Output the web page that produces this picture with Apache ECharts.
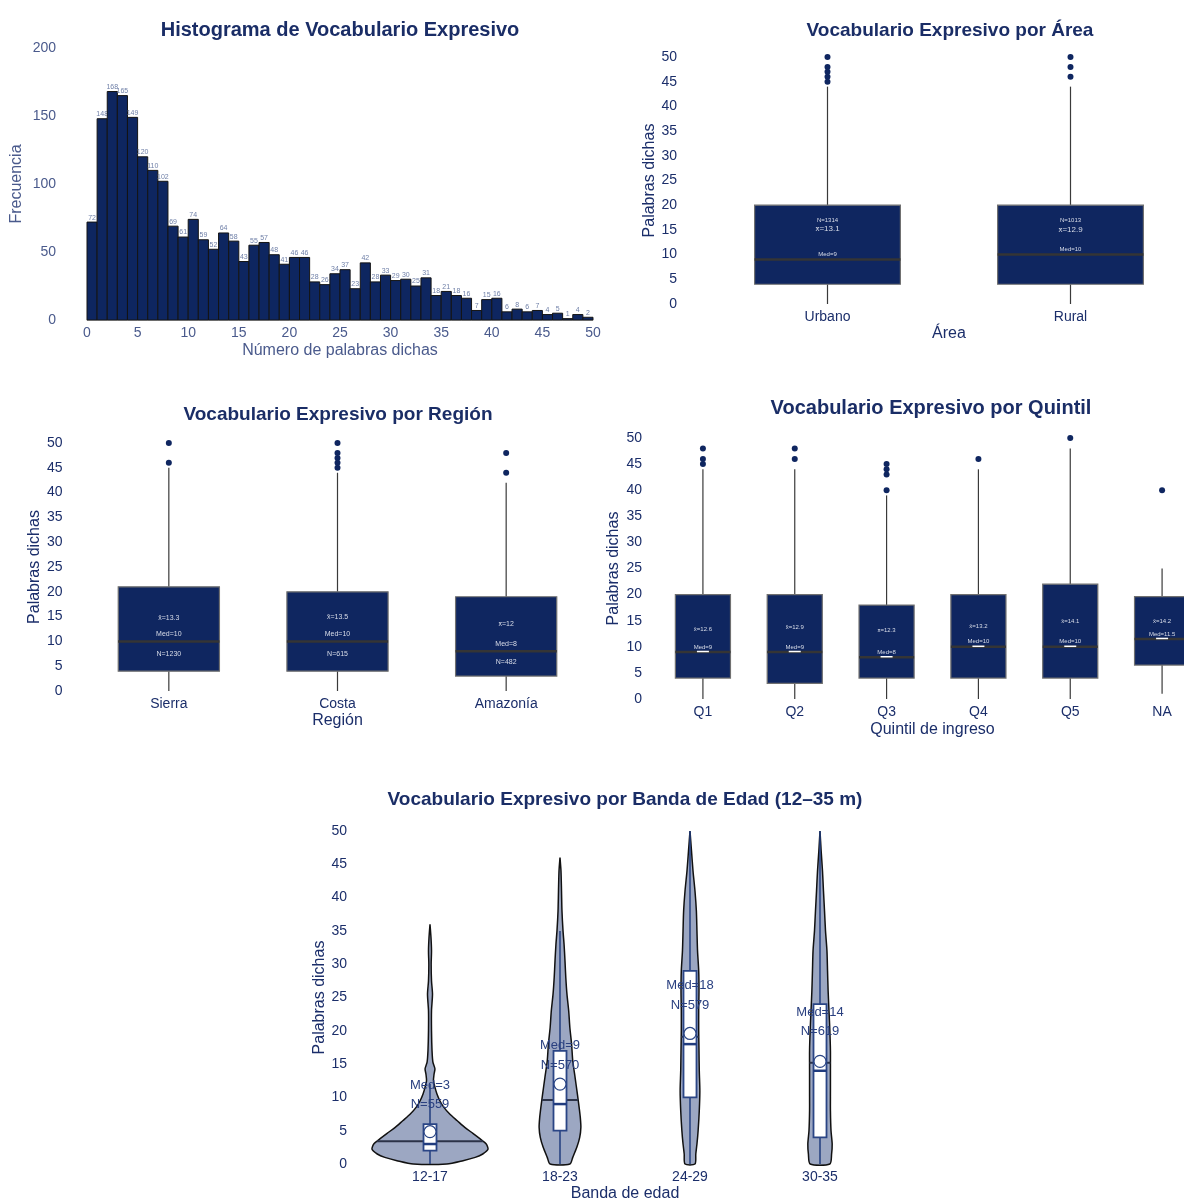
<!DOCTYPE html>
<html>
<head>
<meta charset="utf-8">
<title>Vocabulario Expresivo</title>
<script src="https://cdn.jsdelivr.net/npm/echarts@6/dist/echarts.min.js"></script>
<style>
  html, body { margin: 0; padding: 0; background: #ffffff; }
  #main { width: 1184px; height: 1199px; }
</style>
</head>
<body>
<div id="main"></div>
<script>
// ---------- Histograma: frecuencia por número de palabras ----------
const histBinEdges = [0,1,2,3,4,5,6,7,8,9,10,11,12,13,14,15,16,17,18,19,20,21,22,23,24,25,
  26,27,28,29,30,31,32,33,34,35,36,37,38,39,40,41,42,43,44,45,46,47,48,49,50];
const histCounts = [72,148,168,165,149,120,110,102,69,61,74,59,52,64,58,43,55,57,48,41,
  46,46,28,26,34,37,23,42,28,33,29,30,25,31,18,21,18,16,7,15,16,6,8,6,7,4,5,1,4,2];
const histXTicks = [0,5,10,15,20,25,30,35,40,45,50];
const histYTicks = [0,50,100,150,200];

// ---------- Por área ----------
const areaCats = ['Urbano', 'Rural'];
// [mín, Q1, mediana, Q3, máx]
const areaStats = [[0, 4, 9, 20, 44], [0, 4, 10, 20, 44]];
const areaMeans = [13.1, 12.9];
const areaN = [1314, 1013];
const areaOutliers = [[45, 46, 47, 48, 50], [46, 48, 50]];

// ---------- Por región ----------
const regionCats = ['Sierra', 'Costa', 'Amazonía'];
const regionStats = [[0, 4, 10, 21, 45], [0, 4, 10, 20, 44], [0, 3, 8, 19, 42]];
const regionMeans = [13.3, 13.5, 12];
const regionN = [1230, 615, 482];
const regionOutliers = [[46, 50], [45, 46, 47, 48, 50], [44, 48]];

// ---------- Por quintil ----------
const quintCats = ['Q1', 'Q2', 'Q3', 'Q4', 'Q5', 'NA'];
const quintStats = [[0, 4, 9, 20, 44], [0, 3, 9, 20, 44], [0, 4, 8, 18, 39],
  [0, 4, 10, 20, 44], [0, 4, 10, 22, 48], [1, 6.5, 11.5, 19.6, 25]];
const quintMeans = [12.6, 12.9, 12.3, 13.2, 14.1, 14.2];
const quintOutliers = [[45, 46, 48], [46, 48], [40, 43, 44, 45], [46], [50], [40]];

// ---------- Por banda de edad (violines) ----------
const ageCats = ['12-17', '18-23', '24-29', '30-35'];
const ageBox = [[0, 2, 3, 6, 12], [0, 5, 9, 17, 35], [0, 10, 18, 29, 50], [0, 4, 14, 24, 50]];
const ageMeans = [4.85, 12.0, 19.6, 15.4];
const ageN = [559, 570, 579, 619];
const ageCenterLine = [3.4, 9.6, 19.1, 15.2];
// densidad relativa [palabras, densidad]
const ageDensity = [
  [[0,0.29],[0.5,0.57],[1,0.78],[1.5,0.91],[2.2,1.0],[3,0.97],[3.8,0.86],[4.6,0.74],[5.5,0.60],
   [6.5,0.47],[7.5,0.34],[8.5,0.24],[9.5,0.17],[10.5,0.12],[11.5,0.086],[12.5,0.06],[13.5,0.07],
   [14.3,0.085],[15.3,0.05],[17,0.035],[20,0.026],[23,0.026],[25.5,0.043],[27.5,0.026],[30,0.02],
   [32,0.026],[34,0.017],[36,0]],
  [[0,0.17],[1,0.22],[2.5,0.29],[4,0.34],[5.5,0.36],[7,0.35],[8.5,0.33],[10.5,0.30],[13,0.26],
   [15.5,0.22],[18,0.20],[20.5,0.17],[23,0.15],[25.5,0.12],[28,0.10],[30.5,0.086],[33,0.07],
   [35,0.052],[38,0.034],[41,0.026],[44,0.017],[46,0]],
  [[0,0.086],[1.5,0.10],[3,0.12],[5,0.14],[8,0.16],[11,0.17],[14,0.16],[17,0.155],[20,0.15],
   [23,0.15],[26,0.155],[29,0.15],[32,0.13],[35,0.12],[38,0.11],[41,0.086],[44,0.052],[47,0.026],[50,0]],
  [[0,0.17],[1.5,0.20],[3,0.21],[5,0.19],[8,0.18],[11,0.18],[14,0.18],[17,0.18],[20,0.17],
   [23,0.155],[26,0.14],[29,0.13],[32,0.12],[35,0.095],[38,0.078],[41,0.06],[44,0.043],[47,0.02],[50,0]]
];

const FONT = '"Liberation Sans", Arial, Helvetica, sans-serif';
const NAVY = '#1b2e6a';
const TITLE = '#1a2d66';
const BOX_FILL = '#0f2660';
const BOX_TEXT = '#d9dde8';

const chart = echarts.init(document.getElementById('main'), null, { renderer: 'canvas' });

// Título centrado en cx (se compensa el relleno de 5 px del componente)
function titleItem(text, cx, top, size) {
  return {
    text: text, left: cx - 5, top: top, textAlign: 'center',
    textStyle: { color: TITLE, fontSize: size, fontWeight: 'bold', fontFamily: FONT }
  };
}

function valueYAxis(grid, min, max, interval, name, labelMargin, nameGap, color) {
  return {
    type: 'value', gridIndex: grid, min: min, max: max, interval: interval,
    name: name, nameLocation: 'middle', nameGap: nameGap,
    nameTextStyle: { color: color, fontSize: 16, fontFamily: FONT },
    axisLine: { show: false }, axisTick: { show: false }, splitLine: { show: false },
    axisLabel: { color: color, fontSize: 14, fontFamily: FONT, margin: labelMargin }
  };
}

function catXAxis(grid, cats, name, nameGap) {
  return {
    type: 'category', gridIndex: grid, data: cats,
    name: name, nameLocation: 'middle', nameGap: nameGap,
    nameTextStyle: { color: NAVY, fontSize: 16, fontFamily: FONT },
    axisLine: { show: false }, axisTick: { show: false }, splitLine: { show: false },
    axisLabel: { color: NAVY, fontSize: 14, fontFamily: FONT, margin: 6 }
  };
}

function boxData(stats, means, ns) {
  return stats.map((s, i) => [i, s[0], s[1], s[2], s[3], s[4], means[i], ns ? ns[i] : 0]);
}

function outlierData(list) {
  const out = [];
  list.forEach((arr, i) => arr.forEach(v => out.push([i, v])));
  return out;
}

function boxText(text, x, y, size) {
  return {
    type: 'text',
    style: { text: text, x: x, y: y, fill: BOX_TEXT, fontSize: size, fontFamily: FONT,
             align: 'center', verticalAlign: 'middle' }
  };
}

// Caja con bigotes sin remates; las etiquetas se colocan según cfg.labels
function boxRenderer(cfg) {
  return function (params, api) {
    const i = api.value(0);
    const band = api.size([1, 0])[0];
    const w = band * 0.6;
    const x = api.coord([i, 0])[0];
    const y = v => api.coord([i, v])[1];
    const s = { mn: api.value(1), q1: api.value(2), md: api.value(3), q3: api.value(4),
                mx: api.value(5), mean: api.value(6), n: api.value(7) };
    const children = [
      { type: 'line', shape: { x1: x, y1: y(s.mn), x2: x, y2: y(s.q1) }, style: { stroke: '#3a3a3a', lineWidth: 1.2 } },
      { type: 'line', shape: { x1: x, y1: y(s.q3), x2: x, y2: y(s.mx) }, style: { stroke: '#3a3a3a', lineWidth: 1.2 } },
      { type: 'rect', shape: { x: x - w / 2, y: y(s.q3), width: w, height: y(s.q1) - y(s.q3) },
        style: { fill: BOX_FILL, stroke: '#707070', lineWidth: 1.2 } },
      { type: 'line', shape: { x1: x - w / 2, y1: y(s.md), x2: x + w / 2, y2: y(s.md) },
        style: { stroke: '#353535', lineWidth: 2.5 } }
    ];
    if (cfg.medTick) {
      children.push({ type: 'line', shape: { x1: x - 6, y1: y(s.md) - 0.5, x2: x + 6, y2: y(s.md) - 0.5 },
        style: { stroke: '#ffffff', lineWidth: 1.5 } });
    }
    cfg.labels(s, y).forEach(l => children.push(boxText(l.text, x, l.y, l.size)));
    return { type: 'group', children: children };
  };
}

function boxSeries(xi, data, cfg) {
  return {
    type: 'custom', xAxisIndex: xi, yAxisIndex: xi, data: data,
    encode: { x: 0, y: [1, 2, 3, 4, 5] },
    renderItem: boxRenderer(cfg), clip: false, z: 2
  };
}

function outlierSeries(xi, data) {
  return {
    type: 'scatter', xAxisIndex: xi, yAxisIndex: xi, data: data,
    symbol: 'circle', symbolSize: 6, itemStyle: { color: BOX_FILL, opacity: 1 }, z: 3, silent: true
  };
}

const areaLabels = (s, y) => [
  { text: 'N=' + s.n, y: y(s.q3) + 15.5, size: 6 },
  { text: 'x̄=' + s.mean, y: y(s.mean) - 10, size: 8 },
  { text: 'Med=' + s.md, y: y(s.md) - 5, size: 6 }
];
const regionLabels = (s, y) => [
  { text: 'x̄=' + s.mean, y: y(s.mean) - 7, size: 7 },
  { text: 'Med=' + s.md, y: y(s.md) - 7, size: 7 },
  { text: 'N=' + s.n, y: y((s.q1 + s.md) / 2) - 2, size: 7 }
];
const quintLabels = (s, y) => [
  { text: 'x̄=' + s.mean, y: y(s.mean) - 4, size: 6 },
  { text: 'Med=' + s.md, y: y(s.md) - 5, size: 6 }
];

// ---------- Violines ----------
const violinWidthScale = 0.446;   // fracción de la banda para densidad 1
function halfWidthAt(dens, v) {
  for (let j = 1; j < dens.length; j++) {
    if (v <= dens[j][0]) {
      const a = dens[j - 1], b = dens[j];
      const t = (v - a[0]) / (b[0] - a[0]);
      return a[1] + t * (b[1] - a[1]);
    }
  }
  return 0;
}

function violinRenderer(params, api) {
  const idx = params.dataIndex;
  const i = api.value(0);
  const band = api.size([1, 0])[0];
  const x = api.coord([i, 0])[0];
  const y = v => api.coord([i, v])[1];
  const dens = ageDensity[idx];
  const k = band * violinWidthScale;
  const pts = [];
  dens.forEach(([v, d]) => pts.push([x + d * k, y(v)]));
  dens.slice().reverse().forEach(([v, d]) => pts.push([x - d * k, y(v)]));
  const mn = api.value(1), q1 = api.value(2), md = api.value(3), q3 = api.value(4), mx = api.value(5);
  const mean = ageMeans[idx];
  const cl = ageCenterLine[idx];
  const hw = halfWidthAt(dens, cl) * k;
  const bw = band * 0.1;
  const blue = '#213c7e';
  const labelY = y(md) - 58.6;
  return {
    type: 'group',
    children: [
      { type: 'polygon', shape: { points: pts, smooth: 0.25 },
        style: { fill: '#9ca7c2', stroke: '#111111', lineWidth: 1.5 } },
      { type: 'line', shape: { x1: x, y1: y(mn), x2: x, y2: y(mx) }, style: { stroke: blue, lineWidth: 1.5 } },
      { type: 'line', shape: { x1: x - hw, y1: y(cl), x2: x + hw, y2: y(cl) }, style: { stroke: '#2c3348', lineWidth: 2 } },
      { type: 'rect', shape: { x: x - bw / 2, y: y(q3), width: bw, height: y(q1) - y(q3) },
        style: { fill: '#ffffff', stroke: '#2a4585', lineWidth: 1.8 } },
      { type: 'line', shape: { x1: x - bw / 2, y1: y(md), x2: x + bw / 2, y2: y(md) }, style: { stroke: blue, lineWidth: 2.5 } },
      { type: 'circle', shape: { cx: x, cy: y(mean), r: 6 }, style: { fill: '#ffffff', stroke: '#2a4585', lineWidth: 1.2 } },
      { type: 'text', style: { text: 'Med=' + md, x: x, y: labelY, fill: '#2a4080', fontSize: 13, fontFamily: FONT,
        align: 'center', verticalAlign: 'middle' } },
      { type: 'text', style: { text: 'N=' + ageN[idx], x: x, y: labelY + 19.5, fill: '#2a4080', fontSize: 13, fontFamily: FONT,
        align: 'center', verticalAlign: 'middle' } }
    ]
  };
}

// ---------- Histograma ----------
function histRenderer(params, api) {
  const p0 = api.coord([api.value(0), 0]);
  const p1 = api.coord([api.value(1), api.value(2)]);
  return {
    type: 'group',
    children: [
      { type: 'rect', shape: { x: p0[0], y: p1[1], width: p1[0] - p0[0], height: p0[1] - p1[1] },
        style: { fill: '#0e2660', stroke: '#141414', lineWidth: 1 } },
      { type: 'text', style: { text: String(api.value(2)), x: (p0[0] + p1[0]) / 2, y: p1[1] - 1,
        fill: '#7080a8', fontSize: 7, fontFamily: FONT, align: 'center', verticalAlign: 'bottom' } }
    ]
  };
}

const histColor = '#4a5a8c';

const option = {
  animation: false,
  backgroundColor: '#ffffff',
  textStyle: { fontFamily: FONT },
  title: [
    titleItem('Histograma de Vocabulario Expresivo', 340, 15, 20),
    titleItem('Vocabulario Expresivo por Área', 950, 16, 19),
    titleItem('Vocabulario Expresivo por Región', 338, 400, 19),
    titleItem('Vocabulario Expresivo por Quintil', 931, 393, 20),
    titleItem('Vocabulario Expresivo por Banda de Edad (12–35 m)', 625, 785, 19)
  ],
  grid: [
    { left: 87, width: 506, top: 48, height: 272, outerBoundsMode: 'none', containLabel: false },
    { left: 706, width: 486, top: 57, height: 247, outerBoundsMode: 'none', containLabel: false },
    { left: 84.5, width: 506, top: 443, height: 248, outerBoundsMode: 'none', containLabel: false },
    { left: 657, width: 551, top: 438, height: 261, outerBoundsMode: 'none', containLabel: false },
    { left: 365, width: 520, top: 831, height: 333, outerBoundsMode: 'none', containLabel: false }
  ],
  xAxis: [
    {
      type: 'value', gridIndex: 0, min: histXTicks[0], max: histXTicks[histXTicks.length - 1],
      interval: histXTicks[1] - histXTicks[0],
      name: 'Número de palabras dichas', nameLocation: 'middle', nameGap: 23,
      nameTextStyle: { color: histColor, fontSize: 16, fontFamily: FONT },
      axisLine: { show: true, lineStyle: { color: '#c4c4c4', width: 1 } },
      axisTick: { show: false }, splitLine: { show: false },
      axisLabel: { color: histColor, fontSize: 14, fontFamily: FONT, margin: 6 }
    },
    catXAxis(1, areaCats, 'Área', 22),
    catXAxis(2, regionCats, 'Región', 22),
    catXAxis(3, quintCats, 'Quintil de ingreso', 23),
    catXAxis(4, ageCats, 'Banda de edad', 22)
  ],
  yAxis: [
    valueYAxis(0, histYTicks[0], histYTicks[histYTicks.length - 1], histYTicks[1] - histYTicks[0],
      'Frecuencia', 31, 62, histColor),
    valueYAxis(1, 0, 50, 5, 'Palabras dichas', 29, 47, NAVY),
    valueYAxis(2, 0, 50, 5, 'Palabras dichas', 22, 41, NAVY),
    valueYAxis(3, 0, 50, 5, 'Palabras dichas', 15, 35, NAVY),
    valueYAxis(4, 0, 50, 5, 'Palabras dichas', 18, 37, NAVY)
  ],
  series: [
    {
      type: 'custom', xAxisIndex: 0, yAxisIndex: 0,
      data: histCounts.map((c, i) => [histBinEdges[i], histBinEdges[i + 1], c]),
      encode: { x: [0, 1], y: 2 }, renderItem: histRenderer, clip: false
    },
    boxSeries(1, boxData(areaStats, areaMeans, areaN), { labels: areaLabels }),
    outlierSeries(1, outlierData(areaOutliers)),
    boxSeries(2, boxData(regionStats, regionMeans, regionN), { labels: regionLabels }),
    outlierSeries(2, outlierData(regionOutliers)),
    boxSeries(3, boxData(quintStats, quintMeans, null), { labels: quintLabels, medTick: true }),
    outlierSeries(3, outlierData(quintOutliers)),
    {
      type: 'custom', xAxisIndex: 4, yAxisIndex: 4,
      data: ageBox.map((b, i) => [i, b[0], b[1], b[2], b[3], b[4]]),
      encode: { x: 0, y: [1, 2, 3, 4, 5] }, renderItem: violinRenderer, clip: false
    }
  ]
};

chart.setOption(option);
</script>
</body>
</html>
